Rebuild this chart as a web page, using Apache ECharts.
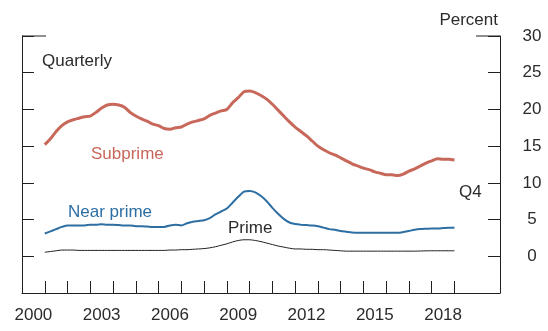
<!DOCTYPE html>
<html>
<head>
<meta charset="utf-8">
<script src="https://cdn.jsdelivr.net/npm/echarts@6/dist/echarts.min.js"></script>
<style>
html, body { margin: 0; padding: 0; background: #fff; }
#chart { width: 548px; height: 331px; }
</style>
</head>
<body>
<div id="chart"></div>
<script>
// Delinquency rates by borrower risk group, quarterly, 2000:Q4 to 2018:Q4 (percent)
const subprime = [
  15.2, 16.0, 17.0, 17.8,
  18.3, 18.6, 18.8, 19.0,
  19.1, 19.6, 20.2, 20.6,
  20.7, 20.6, 20.3, 19.6,
  19.1, 18.7, 18.4, 18.0,
  17.8, 17.4, 17.3, 17.5,
  17.6, 18.0, 18.3, 18.5,
  18.7, 19.2, 19.5, 19.8,
  20.0, 20.9, 21.6, 22.4,
  22.5, 22.3, 21.9, 21.4,
  20.7, 19.9, 19.1, 18.3,
  17.6, 17.0, 16.4, 15.7,
  15.0, 14.5, 14.1, 13.8,
  13.4, 13.0, 12.6, 12.3,
  12.0, 11.8, 11.5, 11.3,
  11.1, 11.1, 11.0, 11.2,
  11.6, 11.9, 12.3, 12.7,
  13.0, 13.3, 13.2, 13.2,
  13.1
];
const nearPrime = [
  3.1, 3.4, 3.7, 4.0,
  4.2, 4.2, 4.2, 4.2,
  4.3, 4.3, 4.35, 4.3,
  4.3, 4.25, 4.2, 4.2,
  4.1, 4.1, 4.05, 4.0,
  4.0, 4.0, 4.2, 4.3,
  4.2, 4.5, 4.7, 4.8,
  4.9, 5.2, 5.7, 6.1,
  6.5, 7.3, 8.1, 8.8,
  8.9, 8.7, 8.2, 7.5,
  6.6, 5.8, 5.1, 4.6,
  4.4, 4.3, 4.25, 4.2,
  4.1, 3.9, 3.7, 3.6,
  3.45, 3.35, 3.25, 3.2,
  3.2, 3.2, 3.2, 3.2,
  3.2, 3.2, 3.2, 3.3,
  3.45, 3.6, 3.7, 3.75,
  3.8, 3.8, 3.85, 3.9,
  3.9
];
const prime = [
  0.55, 0.65, 0.75, 0.85,
  0.85, 0.85, 0.8, 0.8,
  0.8, 0.8, 0.8, 0.8,
  0.8, 0.8, 0.8, 0.8,
  0.8, 0.8, 0.8, 0.8,
  0.8, 0.8, 0.85, 0.85,
  0.9, 0.9, 0.95, 1.0,
  1.05, 1.15, 1.3, 1.5,
  1.7, 1.95, 2.15, 2.25,
  2.25, 2.15, 2.0, 1.8,
  1.6, 1.4, 1.25, 1.1,
  1.0, 1.0, 0.95, 0.95,
  0.9, 0.9, 0.85, 0.8,
  0.75, 0.7, 0.7, 0.7,
  0.7, 0.7, 0.7, 0.7,
  0.7, 0.7, 0.7, 0.7,
  0.7, 0.7, 0.72, 0.74,
  0.75, 0.75, 0.75, 0.75,
  0.75
];

// Year labels sit in the middle of their year; ticks mark year boundaries
const yearLabels = [2000, 2003, 2006, 2009, 2012, 2015, 2018];
const yearTicks = [2001, 2002, 2003, 2004, 2005, 2006, 2007, 2008, 2009, 2010,
                   2011, 2012, 2013, 2014, 2015, 2016, 2017, 2018, 2019];
const percentTicks = [0, 5, 10, 15, 20, 25, 30];

// Quarter names starting at 2000:Q4
const quarters = subprime.map((_, i) => {
  const k = 3 + i;
  return (2000 + Math.floor(k / 4)) + 'Q' + (k % 4 + 1);
});
// Each quarter is plotted at its end date
function quarterEnd(label) {
  const y = +label.slice(0, 4), q = +label.slice(5);
  return y + q / 4;
}
const pairs = arr => quarters.map((q, i) => [quarterEnd(q), arr[i]]);

const FONT = "'Liberation Sans', Arial, sans-serif";
const INK = '#231f20';
const TEXT = '#2b2b2b';
const RED = '#c8685a';
const BLUE = '#2d6ea3';

const chart = echarts.init(document.getElementById('chart'), null, { renderer: 'canvas' });

const axisLine = { show: true, lineStyle: { color: INK, width: 1 } };

chart.setOption({
  animation: false,
  grid: { left: 22, right: 48, top: 36, bottom: 38 },
  xAxis: {
    type: 'value', min: 2000, max: 2021,
    axisLine: Object.assign({ onZero: false }, axisLine),
    axisTick: { show: true, inside: true, length: 12, lineStyle: { color: INK, width: 1 }, customValues: yearTicks },
    axisLabel: {
      customValues: yearLabels.map(y => y + 0.5),
      formatter: v => String(Math.floor(v)),
      color: TEXT, fontFamily: FONT, fontSize: 17, margin: 14
    },
    splitLine: { show: false }
  },
  yAxis: [
    {
      type: 'value', min: -5, max: 30, position: 'left',
      axisLine: axisLine,
      axisTick: { show: true, inside: true, length: 12, lineStyle: { color: INK, width: 1 }, customValues: percentTicks },
      axisLabel: { show: false },
      splitLine: { show: false }
    },
    {
      type: 'value', min: -5, max: 30, position: 'right',
      axisLine: axisLine,
      axisTick: { show: true, inside: true, length: 12, lineStyle: { color: INK, width: 1 }, customValues: percentTicks },
      axisLabel: { customValues: percentTicks, color: TEXT, fontFamily: FONT, fontSize: 17, align: 'center', margin: 32 },
      splitLine: { show: false }
    }
  ],
  series: [
    { name: 'Subprime', type: 'line', data: pairs(subprime), showSymbol: false, smooth: 0.25,
      lineStyle: { color: RED, width: 3 }, itemStyle: { color: RED } },
    { name: 'Near prime', type: 'line', data: pairs(nearPrime), showSymbol: false, smooth: 0.25,
      lineStyle: { color: BLUE, width: 2 }, itemStyle: { color: BLUE } },
    { name: 'Prime', type: 'line', data: pairs(prime), showSymbol: false, smooth: 0.25,
      lineStyle: { color: INK, width: 1 }, itemStyle: { color: INK } }
  ]
});

// Longer caps at the top of both vertical axes, plus the text annotations
const topLeft = chart.convertToPixel({ gridIndex: 0 }, [2000, 30]);
const topRight = chart.convertToPixel({ gridIndex: 0 }, [2021, 30]);
const textStyle = (s, fill) => ({ text: s, fill: fill || TEXT, font: "17px " + FONT });

chart.setOption({
  graphic: [
    { type: 'line', shape: { x1: topLeft[0], y1: topLeft[1], x2: topLeft[0] + 24, y2: topLeft[1] },
      style: { stroke: INK, lineWidth: 1 } },
    { type: 'line', shape: { x1: topRight[0] - 24, y1: topRight[1], x2: topRight[0], y2: topRight[1] },
      style: { stroke: INK, lineWidth: 1 } },
    { type: 'text', right: 50, top: 12, style: textStyle('Percent') },
    { type: 'text', left: 42, top: 53, style: textStyle('Quarterly') },
    { type: 'text', left: 91, top: 146, style: textStyle('Subprime', RED) },
    { type: 'text', left: 68, top: 204, style: textStyle('Near prime', BLUE) },
    { type: 'text', left: 228, top: 220, style: textStyle('Prime') },
    { type: 'text', left: 459, top: 184, style: textStyle('Q4') }
  ]
});
</script>
</body>
</html>
